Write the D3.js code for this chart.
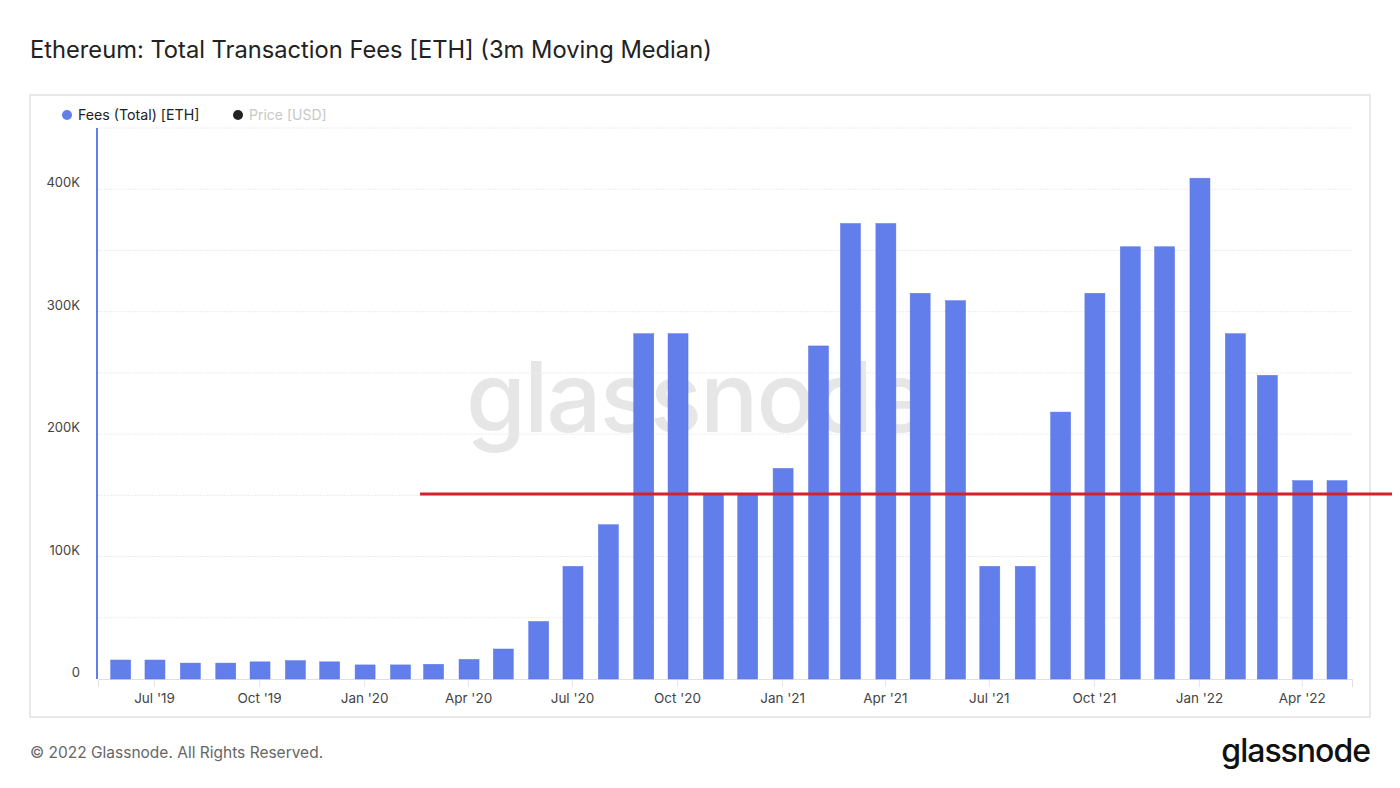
<!DOCTYPE html>
<html>
<head>
<meta charset="utf-8">
<script src="https://cdn.jsdelivr.net/npm/d3@7"></script>
<style>
  body { margin: 0; background: #fff; }
  svg { display: block; font-family: Inter, "Noto Sans", sans-serif; }
</style>
</head>
<body>
<svg id="chart" width="1400" height="788"></svg>
<script>
// monthly buckets (first day of month)
const months = ["2019-06", "2019-07", "2019-08", "2019-09", "2019-10", "2019-11", "2019-12",
    "2020-01", "2020-02", "2020-03", "2020-04", "2020-05", "2020-06", "2020-07", "2020-08",
    "2020-09", "2020-10", "2020-11", "2020-12", "2021-01", "2021-02", "2021-03", "2021-04",
    "2021-05", "2021-06", "2021-07", "2021-08", "2021-09", "2021-10", "2021-11", "2021-12",
    "2022-01", "2022-02", "2022-03", "2022-04", "2022-05"];

// Fees (Total) [ETH], 3m moving median
const fees = [15500, 15500, 13000, 13000, 14000, 15000, 14000,
    11500, 11500, 12000, 16000, 24500, 47000, 92000, 126000,
    282000, 282000, 151000, 151000, 172000, 272000, 372000, 372000,
    315000, 309000, 92000, 92000, 218000, 315000, 353000, 353000,
    409000, 282000, 248000, 162000, 162000];

const yTicks = [0, 100000, 200000, 300000, 400000];
const xTickMonths = ["2019-07", "2019-10", "2020-01", "2020-04", "2020-07", "2020-10",
    "2021-01", "2021-04", "2021-07", "2021-10", "2022-01", "2022-04"];

// red reference line
const refLevel = 151000;
const refStart = "2020-02-19", refEnd = "2022-06-19";

const parseMonth = d3.utcParse("%Y-%m");
const parseDay = d3.utcParse("%Y-%m-%d");

const svg = d3.select("#chart");

const plot = { left: 98, right: 1352, top: 128, bottom: 679 };

const x = d3.scaleUtc()
    .domain([parseDay("2019-05-13"), parseDay("2022-05-15")])
    .range([plot.left, plot.right]);

const y = d3.scaleLinear()
    .domain([0, 450000])
    .range([plot.bottom, plot.top]);

// title
svg.append("text")
    .attr("x", 30)
    .attr("y", 58)
    .attr("font-size", "23.7px")
    .attr("fill", "#222")
    .text("Ethereum: Total Transaction Fees [ETH] (3m Moving Median)");

// frame
svg.append("rect")
    .attr("x", 30).attr("y", 95)
    .attr("width", 1340).attr("height", 622)
    .attr("fill", "none")
    .attr("stroke", "#e8e8e8")
    .attr("stroke-width", 2);

// watermark
svg.append("text")
    .attr("x", 466)
    .attr("y", 432)
    .attr("font-size", "97px")
    .attr("font-weight", 500)
    .attr("letter-spacing", "-2px")
    .attr("fill", "#e6e6e6")
    .text("glassnode");

// gridlines every 50K
svg.append("g")
    .selectAll("line")
    .data(d3.range(50000, 450001, 50000))
    .join("line")
    .attr("x1", plot.left)
    .attr("x2", plot.right)
    .attr("y1", d => y(d))
    .attr("y2", d => y(d))
    .attr("stroke", "#ececec")
    .attr("stroke-dasharray", "2,1");

// y labels
svg.append("g")
    .selectAll("text")
    .data(yTicks)
    .join("text")
    .attr("x", 80)
    .attr("y", d => y(d) - 2)
    .attr("text-anchor", "end")
    .attr("font-size", "13px")
    .attr("fill", "#444")
    .text(d => d === 0 ? "0" : d3.format("~s")(d).toUpperCase());

// x axis
const xAxis = d3.axisBottom(x)
    .tickValues(xTickMonths.map(parseMonth))
    .tickFormat(d3.utcFormat("%b '%y"))
    .tickSize(8)
    .tickPadding(6);

const gx = svg.append("g")
    .attr("transform", `translate(0,${plot.bottom})`)
    .call(xAxis);
gx.select(".domain").attr("stroke", "#e0e0e0");
gx.selectAll(".tick line").attr("stroke", "#e6e6e6");
gx.selectAll(".tick text")
    .attr("font-size", "13.5px")
    .attr("font-family", "Inter, sans-serif")
    .attr("fill", "#444");

// bars
const barW = 20;
svg.append("g")
    .selectAll("rect")
    .data(months.map((m, i) => ({ date: parseMonth(m), value: fees[i] })))
    .join("rect")
    .attr("x", d => x(d.date) - barW / 2 + 1)
    .attr("y", d => y(d.value))
    .attr("width", barW)
    .attr("height", d => y(0) - y(d.value))
    .attr("fill", "#627eea")
    .attr("stroke", "#5a76e6")
    .attr("stroke-width", 0.5);

// left axis line
svg.append("line")
    .attr("x1", 97).attr("x2", 97)
    .attr("y1", plot.top).attr("y2", plot.bottom)
    .attr("stroke", "#627eea")
    .attr("stroke-width", 2);

// legend
const legend = svg.append("g").attr("transform", "translate(67,115)");
legend.append("circle").attr("r", 5).attr("fill", "#627eea");
legend.append("text").attr("x", 11).attr("y", 5)
    .attr("font-size", "14.2px").attr("fill", "#222")
    .text("Fees (Total) [ETH]");
legend.append("circle").attr("cx", 171).attr("r", 5).attr("fill", "#222");
legend.append("text").attr("x", 182).attr("y", 5)
    .attr("font-size", "14px").attr("fill", "#c8c8c8")
    .text("Price [USD]");

// red reference line
svg.append("line")
    .attr("x1", x(parseDay(refStart)))
    .attr("x2", x(parseDay(refEnd)))
    .attr("y1", y(refLevel))
    .attr("y2", y(refLevel))
    .attr("stroke", "#d8202a")
    .attr("stroke-width", 3);

// footer
svg.append("text")
    .attr("x", 30)
    .attr("y", 758)
    .attr("font-size", "15.5px")
    .attr("fill", "#666")
    .text("© 2022 Glassnode. All Rights Reserved.");

svg.append("text")
    .attr("x", 1370)
    .attr("y", 762)
    .attr("text-anchor", "end")
    .attr("font-size", "32px")
    .attr("font-weight", 500)
    .attr("letter-spacing", "-1px")
    .attr("fill", "#111")
    .text("glassnode");
</script>
</body>
</html>
